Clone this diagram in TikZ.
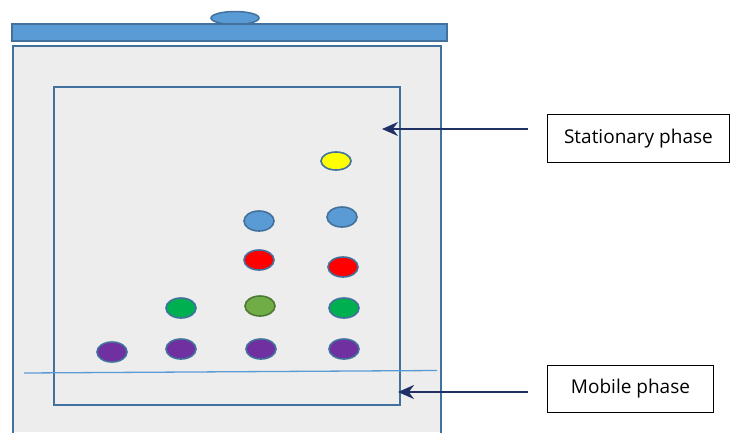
\documentclass[tikz,border=0pt]{standalone}
\usepackage{fontspec}
\setmainfont{Open Sans}
\usetikzlibrary{arrows.meta,shapes.geometric}
\definecolor{edgeblue}{HTML}{41719C}
\definecolor{lidblue}{HTML}{5B9BD5}
\definecolor{tankgray}{HTML}{EDEDED}
\definecolor{navy}{HTML}{1F3064}
\definecolor{spotpurple}{HTML}{7030A0}
\definecolor{spotgreen}{HTML}{00B050}
\definecolor{spotolive}{HTML}{70AD47}
\definecolor{spotred}{HTML}{FF0000}
\definecolor{spotblue}{HTML}{5B9BD5}
\definecolor{spotyellow}{HTML}{FFFF00}
\tikzset{
  spot/.style={ellipse, draw=edgeblue, line width=1.6pt, minimum width=30pt, minimum height=20pt, inner sep=0pt},
  labelbox/.style={draw=black, line width=0.9pt, fill=white, minimum height=48pt, inner sep=0pt, font=\fontsize{19}{22}\selectfont},
  pointer/.style={navy, line width=1.7pt, -{Stealth[length=16pt, width=14pt]}}
}
\begin{document}
\begin{tikzpicture}[x=1pt, y=-1pt]
\useasboundingbox (0,0) rectangle (731,432);
\fill[white] (0,0) rectangle (731,432);
% chamber walls
\fill[tankgray] (13,46) rectangle (441,432);
\draw[edgeblue, line width=2pt] (13,433) -- (13,46) -- (441,46) -- (441,433);
% lid and knob
\draw[edgeblue, line width=1.5pt, fill=lidblue] (235,18) ellipse (24pt and 6.5pt);
\draw[edgeblue, line width=1.5pt, fill=lidblue] (12,24) rectangle (447,41);
% plate
\draw[edgeblue, line width=1.6pt] (54,87) rectangle (400,405);
% solvent front line
\draw[lidblue, line width=1.3pt] (24,373) -- (437,370.5);
% spots
\node[spot, fill=spotpurple] (p1) at (112,352) {};
\node[spot, fill=spotpurple] (p2) at (181,349) {};
\node[spot, fill=spotpurple] (p3) at (261,349) {};
\node[spot, fill=spotpurple] (p4) at (344,349) {};
\node[spot, fill=spotgreen] (g2) at (181,308) {};
\node[spot, fill=spotolive, draw=spotolive!70!black] (g3) at (260,306) {};
\node[spot, fill=spotgreen] (g4) at (344,308) {};
\node[spot, fill=spotred] (r3) at (259,260) {};
\node[spot, fill=spotred] (r4) at (343,267) {};
\node[spot, fill=spotblue] (b3) at (259,221) {};
\node[spot, fill=spotblue] (b4) at (342,217) {};
\node[spot, fill=spotyellow, minimum height=18pt] (y4) at (336,161) {};
% labels
\node[labelbox, minimum width=182pt, anchor=north west] (stat) at (547,114) {Stationary phase};
\node[labelbox, minimum width=166pt, minimum height=47pt, anchor=north west] (mob) at (547,365) {Mobile phase};
\coordinate (statTip) at (382,129);
\coordinate (mobTip) at (398,392);
\draw[pointer] ([xshift=-19pt]stat.west |- statTip) -- (statTip);
\draw[pointer] ([xshift=-19pt]mob.west |- mobTip) -- (mobTip);
\end{tikzpicture}
\end{document}
